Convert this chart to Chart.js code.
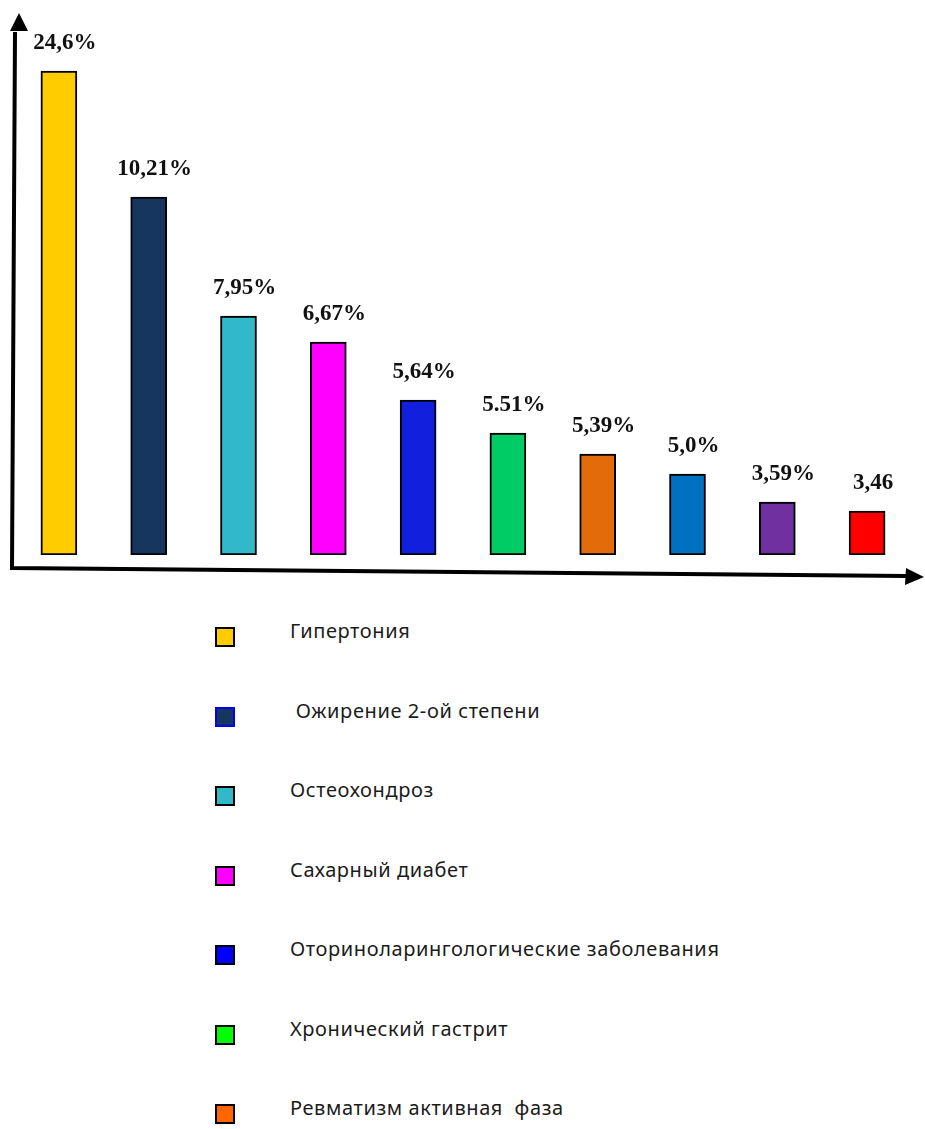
<!DOCTYPE html>
<html lang="ru">
<head>
<meta charset="utf-8">
<title>Заболевания</title>
<script src="https://cdn.jsdelivr.net/npm/chart.js@4.4.0/dist/chart.umd.min.js"></script>
<style>
  html, body { margin: 0; padding: 0; background: #fff; }
  body { width: 925px; height: 1129px; overflow: hidden; position: relative; }
  #wrap { position: absolute; left: 0; top: 0; width: 925px; height: 600px; }
  #legend { position: absolute; left: 0; top: 0; width: 925px; }
  .item { position: absolute; left: 0; width: 925px; height: 30px; }
  .box { position: absolute; left: 215px; width: 16px; height: 16px; border: 2px solid #000; }
  .txt { position: absolute; left: 290px; font-family: "Noto Sans", sans-serif; font-size: 20px;
         letter-spacing: 0.6px; color: #1b1b1b; white-space: pre; line-height: 24px; }
</style>
</head>
<body>
<div id="wrap"><canvas id="chart" width="925" height="600"></canvas></div>
<div id="legend"></div>
<script>
// Названия (в легенде видны только первые 7)
const categories = [
    'Гипертония',
    ' Ожирение 2-ой степени',
    'Остеохондроз',
    'Сахарный диабет',
    'Оториноларингологические заболевания',
    'Хронический гастрит',
    'Ревматизм активная  фаза'
];

// подписи над столбиками, как на рисунке
const valueLabels = ['24,6%', '10,21%', '7,95%', '6,67%', '5,64%', '5.51%', '5,39%', '5,0%', '3,59%', '3,46'];

// высоты столбиков (не пропорциональны процентам)
const barHeights = [484, 358, 239, 213, 155, 122, 101, 81, 53, 44];

const barColors = ['#FFCC00', '#17365D', '#31B9C9', '#FF00FF', '#1020DC', '#00CC66', '#E36C0A', '#0070C0', '#7030A0', '#FF0000'];
const legendColors = ['#FFCC00', '#17365D', '#31B9C9', '#FF00FF', '#0000FF', '#00FF00', '#FF6600'];
const legendBorders = ['#000', '#0000FF', '#000', '#000', '#000', '#000', '#000'];

// рисуем оси со стрелками и подписи значений
const axesPlugin = {
    id: 'axesArrows',
    afterDatasetsDraw(chart) {
        const ctx = chart.ctx;
        const ca = chart.chartArea;
        ctx.save();
        ctx.strokeStyle = '#000';
        ctx.fillStyle = '#000';
        ctx.lineWidth = 4;
        ctx.lineJoin = 'miter';
        // ось Y и ось X одной линией
        ctx.beginPath();
        ctx.moveTo(ca.left + 1, 32);
        ctx.lineTo(ca.left - 2, ca.bottom + 13);
        ctx.lineTo(ca.right - 6, ca.bottom + 21);
        ctx.stroke();
        // стрелка вверх
        ctx.beginPath();
        ctx.moveTo(ca.left + 5, 13);
        ctx.lineTo(ca.left - 4, 31);
        ctx.lineTo(ca.left + 14, 31);
        ctx.closePath();
        ctx.fill();
        // стрелка вправо
        ctx.beginPath();
        ctx.moveTo(ca.right + 12, ca.bottom + 22);
        ctx.lineTo(ca.right - 6, ca.bottom + 13);
        ctx.lineTo(ca.right - 7, ca.bottom + 30);
        ctx.closePath();
        ctx.fill();

        // подписи
        const meta = chart.getDatasetMeta(0);
        ctx.font = 'bold 23px "Liberation Serif", "Times New Roman", serif';
        ctx.textAlign = 'center';
        ctx.textBaseline = 'middle';
        ctx.fillStyle = '#111';
        meta.data.forEach((bar, i) => {
            ctx.fillText(valueLabels[i], bar.x + 6, bar.y - 28);
        });
        ctx.restore();
    }
};

new Chart(document.getElementById('chart'), {
    type: 'bar',
    data: {
        labels: valueLabels,
        datasets: [{
            data: barHeights,
            backgroundColor: barColors,
            borderColor: '#000',
            borderWidth: 2,
            borderSkipped: false,
            barThickness: 36
        }]
    },
    options: {
        responsive: false,
        animation: false,
        layout: { padding: { left: 14, right: 13, top: 55, bottom: 45 } },
        plugins: { legend: { display: false }, tooltip: { enabled: false } },
        scales: {
            x: { display: false },
            y: { display: false, min: 0, max: 500 }
        }
    },
    plugins: [axesPlugin]
});

// легенда снизу
const legend = document.getElementById('legend');
categories.forEach((name, i) => {
    const cy = 636 + i * 79.5;
    const item = document.createElement('div');
    item.className = 'item';
    item.style.top = (cy - 15) + 'px';
    const box = document.createElement('div');
    box.className = 'box';
    box.style.top = '6px';
    box.style.background = legendColors[i];
    box.style.borderColor = legendBorders[i];
    const txt = document.createElement('div');
    txt.className = 'txt';
    txt.style.top = '-2px';
    txt.textContent = name;
    item.appendChild(box);
    item.appendChild(txt);
    legend.appendChild(item);
});
</script>
</body>
</html>
